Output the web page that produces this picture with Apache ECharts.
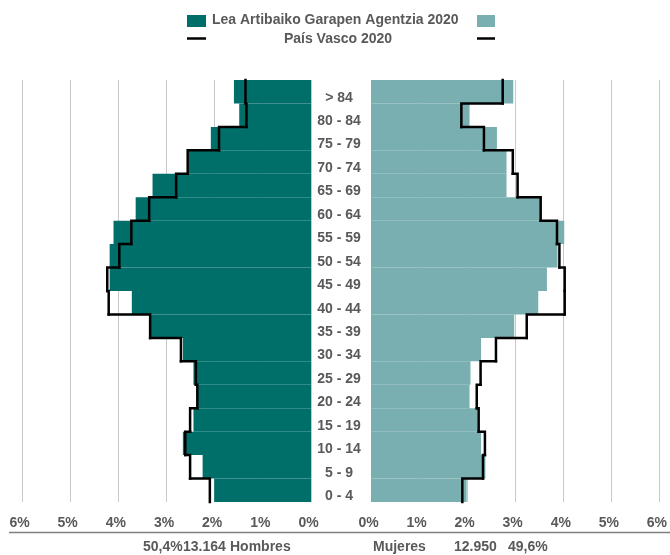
<!DOCTYPE html>
<html>
<head>
<meta charset="utf-8">
<script src="https://cdn.jsdelivr.net/npm/echarts@6/dist/echarts.min.js"></script>
<style>
html,body{margin:0;padding:0;background:#fff;}
#chart{width:670px;height:555px;}
</style>
</head>
<body>
<div id="chart"></div>
<script>
// Age groups, bottom to top
const categories = ["0 - 4","5 - 9","10 - 14","15 - 19","20 - 24","25 - 29","30 - 34","35 - 39","40 - 44","45 - 49","50 - 54","55 - 59","60 - 64","65 - 69","70 - 74","75 - 79","80 - 84","> 84"];
// Lea Artibaiko Garapen Agentzia 2020 (% of total population)
const menLea   = [2.01,2.25,2.66,2.44,2.37,2.44,2.66,3.34,3.72,4.18,4.18,4.10,3.64,3.29,2.54,2.08,1.49,1.60];
const womenLea = [1.99,2.38,2.29,2.22,2.05,2.07,2.29,2.98,3.48,3.66,3.88,4.02,3.53,2.82,2.82,2.62,2.05,2.96];
// País Vasco 2020 (% of total population)
const menPV    = [2.10,2.51,2.61,2.51,2.36,2.39,2.70,3.34,4.20,4.23,3.98,3.73,3.36,2.80,2.56,1.91,1.34,1.36];
const womenPV  = [1.90,2.33,2.37,2.24,2.20,2.28,2.60,3.24,4.03,4.03,3.92,3.87,3.53,3.05,2.95,2.35,1.88,2.74];
// Axis ticks (percent)
const tickMin = 0, tickMax = 6, tickStep = 1;
// Legend and totals texts
const legendLea = "Lea Artibaiko Garapen Agentzia 2020";
const legendPV = "País Vasco 2020";
const menTotals = ["50,4%", "13.164", "Hombres"];
const womenTotals = ["Mujeres", "12.950", "49,6%"];

const DARK = '#006F6A', LIGHT = '#79AFB0', TXT = '#595959';
const FONT = '"Liberation Sans", Arial, sans-serif';

function stepRenderer(values) {
  return function (params, api) {
    const i = params.dataIndex;
    const p = api.coord([api.value(0), api.value(1)]);
    const h = api.size([0, 1])[1];
    const top = p[1] - h / 2, bot = p[1] + h / 2;
    const pts = [[p[0], bot], [p[0], top]];
    if (i + 1 < values.length) {
      const pn = api.coord([values[i + 1], i + 1]);
      pts.push([pn[0], top]);
    }
    return {
      type: 'polyline',
      shape: { points: pts },
      style: { stroke: '#000', lineWidth: 2.5, fill: null, lineCap: 'square', lineJoin: 'miter' }
    };
  };
}

const xAxisCommon = {
  type: 'value', min: tickMin, max: tickMax, interval: tickStep,
  axisLine: { show: false }, axisTick: { show: false },
  splitLine: { show: true, lineStyle: { color: '#c8c8c8', width: 1 } },
  axisLabel: {
    formatter: '{value}%', color: TXT, fontSize: 14, fontWeight: 'bold', fontFamily: FONT,
    margin: 14, padding: [0, 5, 0, 0]
  }
};

const chart = echarts.init(document.getElementById('chart'), null, { renderer: 'canvas' });
chart.setOption({
  backgroundColor: '#fff',
  animation: false,
  grid: [
    { left: 22, width: 289, top: 80, height: 422 },
    { left: 371, width: 290, top: 80, height: 422 }
  ],
  xAxis: [
    Object.assign({ gridIndex: 0, inverse: true }, xAxisCommon),
    Object.assign({ gridIndex: 1 }, xAxisCommon)
  ],
  yAxis: [
    {
      type: 'category', gridIndex: 0, data: categories, position: 'right',
      axisLine: { show: false }, axisTick: { show: false }, splitLine: { show: false },
      axisLabel: {
        align: 'center', verticalAlign: 'top', lineHeight: 12, margin: 28,
        color: TXT, fontSize: 14, fontWeight: 'bold', fontFamily: FONT, interval: 0
      }
    },
    {
      type: 'category', gridIndex: 1, data: categories,
      axisLine: { show: false }, axisTick: { show: false }, splitLine: { show: false },
      axisLabel: { show: false }
    }
  ],
  series: [
    { name: legendLea + ' H', type: 'bar', xAxisIndex: 0, yAxisIndex: 0, data: menLea,
      barCategoryGap: '0%', itemStyle: { color: DARK }, z: 2 },
    { name: legendLea + ' M', type: 'bar', xAxisIndex: 1, yAxisIndex: 1, data: womenLea,
      barCategoryGap: '0%', itemStyle: { color: LIGHT }, z: 2 },
    { name: legendPV + ' H', type: 'custom', xAxisIndex: 0, yAxisIndex: 0,
      data: menPV.map((v, i) => [v, i]), encode: { x: 0, y: 1 },
      renderItem: stepRenderer(menPV), z: 5 },
    { name: legendPV + ' M', type: 'custom', xAxisIndex: 1, yAxisIndex: 1,
      data: womenPV.map((v, i) => [v, i]), encode: { x: 0, y: 1 },
      renderItem: stepRenderer(womenPV), z: 5 }
  ],
  graphic: [
    // legend
    { type: 'rect', left: 187, top: 15, shape: { width: 19, height: 12 }, style: { fill: DARK } },
    { type: 'text', left: 212, top: 13, style: { text: legendLea, fill: TXT, font: 'bold 14px ' + FONT } },
    { type: 'rect', left: 477, top: 15, shape: { width: 18, height: 12 }, style: { fill: LIGHT } },
    { type: 'line', shape: { x1: 187, y1: 38.5, x2: 206, y2: 38.5 }, style: { stroke: '#000', lineWidth: 2.5 } },
    { type: 'text', x: 338, y: 39, style: { text: legendPV, fill: TXT, font: 'bold 14px ' + FONT, textAlign: 'center', textVerticalAlign: 'middle' } },
    { type: 'line', shape: { x1: 477, y1: 38.5, x2: 495, y2: 38.5 }, style: { stroke: '#000', lineWidth: 2.5 } },
    // bottom axis line
    { type: 'line', shape: { x1: 9, y1: 532.5, x2: 670, y2: 532.5 }, style: { stroke: '#808080', lineWidth: 1.5 } },
    // totals
    { type: 'text', x: 143, y: 547, style: { text: menTotals[0], fill: TXT, font: 'bold 14px ' + FONT, textVerticalAlign: 'middle' } },
    { type: 'text', x: 183, y: 547, style: { text: menTotals[1], fill: TXT, font: 'bold 14px ' + FONT, textVerticalAlign: 'middle' } },
    { type: 'text', x: 230, y: 547, style: { text: menTotals[2], fill: TXT, font: 'bold 14px ' + FONT, textVerticalAlign: 'middle' } },
    { type: 'text', x: 373, y: 547, style: { text: womenTotals[0], fill: TXT, font: 'bold 14px ' + FONT, textVerticalAlign: 'middle' } },
    { type: 'text', x: 454, y: 547, style: { text: womenTotals[1], fill: TXT, font: 'bold 14px ' + FONT, textVerticalAlign: 'middle' } },
    { type: 'text', x: 508, y: 547, style: { text: womenTotals[2], fill: TXT, font: 'bold 14px ' + FONT, textVerticalAlign: 'middle' } }
  ]
});
</script>
</body>
</html>
